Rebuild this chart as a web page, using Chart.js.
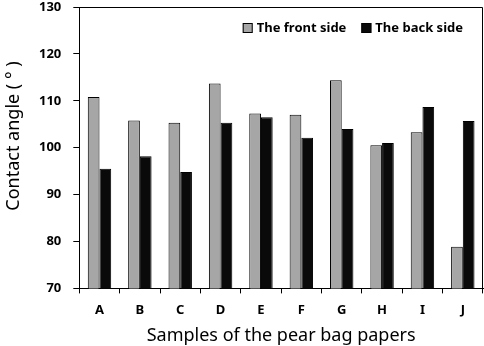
<!DOCTYPE html>
<html>
<head>
<meta charset="utf-8">
<script src="https://cdn.jsdelivr.net/npm/chart.js@4/dist/chart.umd.min.js"></script>
<style>
html,body{margin:0;padding:0;background:#fff;}
#wrap{width:484px;height:346px;}
</style>
</head>
<body>
<div id="wrap"><canvas id="c" width="484" height="346"></canvas></div>
<script>
const categories = ['A','B','C','D','E','F','G','H','I','J'];
const frontSide = [110.8, 105.8, 105.3, 113.7, 107.3, 107.0, 114.4, 100.5, 103.3, 78.9];
const backSide = [95.5, 98.2, 94.8, 105.3, 106.5, 102.1, 104.0, 101.0, 108.7, 105.7];
const seriesNames = ['The front side', 'The back side'];
const yTicks = [70, 80, 90, 100, 110, 120, 130];
const yTitle = 'Contact angle ( ° )';
const xTitle = 'Samples of the pear bag papers';

const FONT = '"Noto Sans", sans-serif';
const tickFont = { family: FONT, size: 13, weight: 'bold' };
const titleFont = { family: FONT, size: 18, weight: 'normal', lineHeight: 1.0 };

const decor = {
  id: 'decor',
  afterDatasetsDraw(chart) {
    const a = chart.chartArea, ctx = chart.ctx;
    ctx.save();
    ctx.strokeStyle = '#000';
    ctx.lineWidth = 1;
    ctx.beginPath();
    ctx.moveTo(Math.round(a.left) + 0.5, Math.round(a.top) + 0.5);
    ctx.lineTo(Math.round(a.right) - 0.5, Math.round(a.top) + 0.5);
    ctx.lineTo(Math.round(a.right) - 0.5, Math.round(a.bottom) + 0.5);
    ctx.stroke();

    ctx.font = 'bold 13px ' + FONT;
    ctx.textBaseline = 'middle';
    ctx.textAlign = 'left';
    const ds = chart.data.datasets;
    const box = 10, gapBoxText = 4, gapItems = 15;
    const widths = ds.map(d => box + gapBoxText + ctx.measureText(d.label).width);
    let x = a.right - 20 - widths.reduce((s, w) => s + w, 0) - gapItems * (ds.length - 1);
    const cy = a.top + 21;
    ds.forEach((d, i) => {
      ctx.fillStyle = d.backgroundColor;
      ctx.fillRect(x, cy - box / 2, box, box);
      ctx.strokeStyle = '#000';
      ctx.strokeRect(x + 0.5, cy - box / 2 + 0.5, box - 1, box - 1);
      ctx.fillStyle = '#000';
      ctx.fillText(d.label, x + box + gapBoxText, cy);
      x += widths[i] + gapItems;
    });

    ctx.font = '18px ' + FONT;
    ctx.textAlign = 'center';
    ctx.translate(14, 136);
    ctx.rotate(-Math.PI / 2);
    ctx.fillText(yTitle, 0, 0);
    ctx.restore();
  }
};

new Chart(document.getElementById('c'), {
  type: 'bar',
  data: {
    labels: categories,
    datasets: [
      { label: seriesNames[0], data: frontSide, backgroundColor: '#a6a6a6', borderColor: '#000', borderWidth: 1,
        categoryPercentage: 0.58, barPercentage: 1 },
      { label: seriesNames[1], data: backSide, backgroundColor: '#0a0a0a', borderColor: '#000', borderWidth: 1,
        categoryPercentage: 0.58, barPercentage: 1 }
    ]
  },
  options: {
    responsive: false,
    animation: false,
    layout: { padding: { left: 27, right: 1, top: 7, bottom: 1 } },
    plugins: {
      legend: { display: false },
      tooltip: { enabled: false }
    },
    scales: {
      x: {
        grid: { display: true, drawOnChartArea: false, tickLength: 5, color: '#000', offset: true },
        border: { color: '#000', width: 1 },
        ticks: { color: '#000', font: tickFont, padding: 9 },
        title: { display: true, text: xTitle, color: '#000', font: titleFont, padding: { top: 0, bottom: 0 } }
      },
      y: {
        min: yTicks[0], max: yTicks[yTicks.length - 1],
        afterBuildTicks(scale) { scale.ticks = yTicks.map(v => ({ value: v })); },
        afterFit(scale) { scale.paddingTop = 0; scale.paddingBottom = 0; },
        grid: { display: true, drawOnChartArea: false, tickLength: 6, color: '#000' },
        border: { color: '#000', width: 1 },
        ticks: { color: '#000', font: tickFont, padding: 12 },
        title: { display: false }
      }
    }
  },
  plugins: [decor]
});
</script>
</body>
</html>
